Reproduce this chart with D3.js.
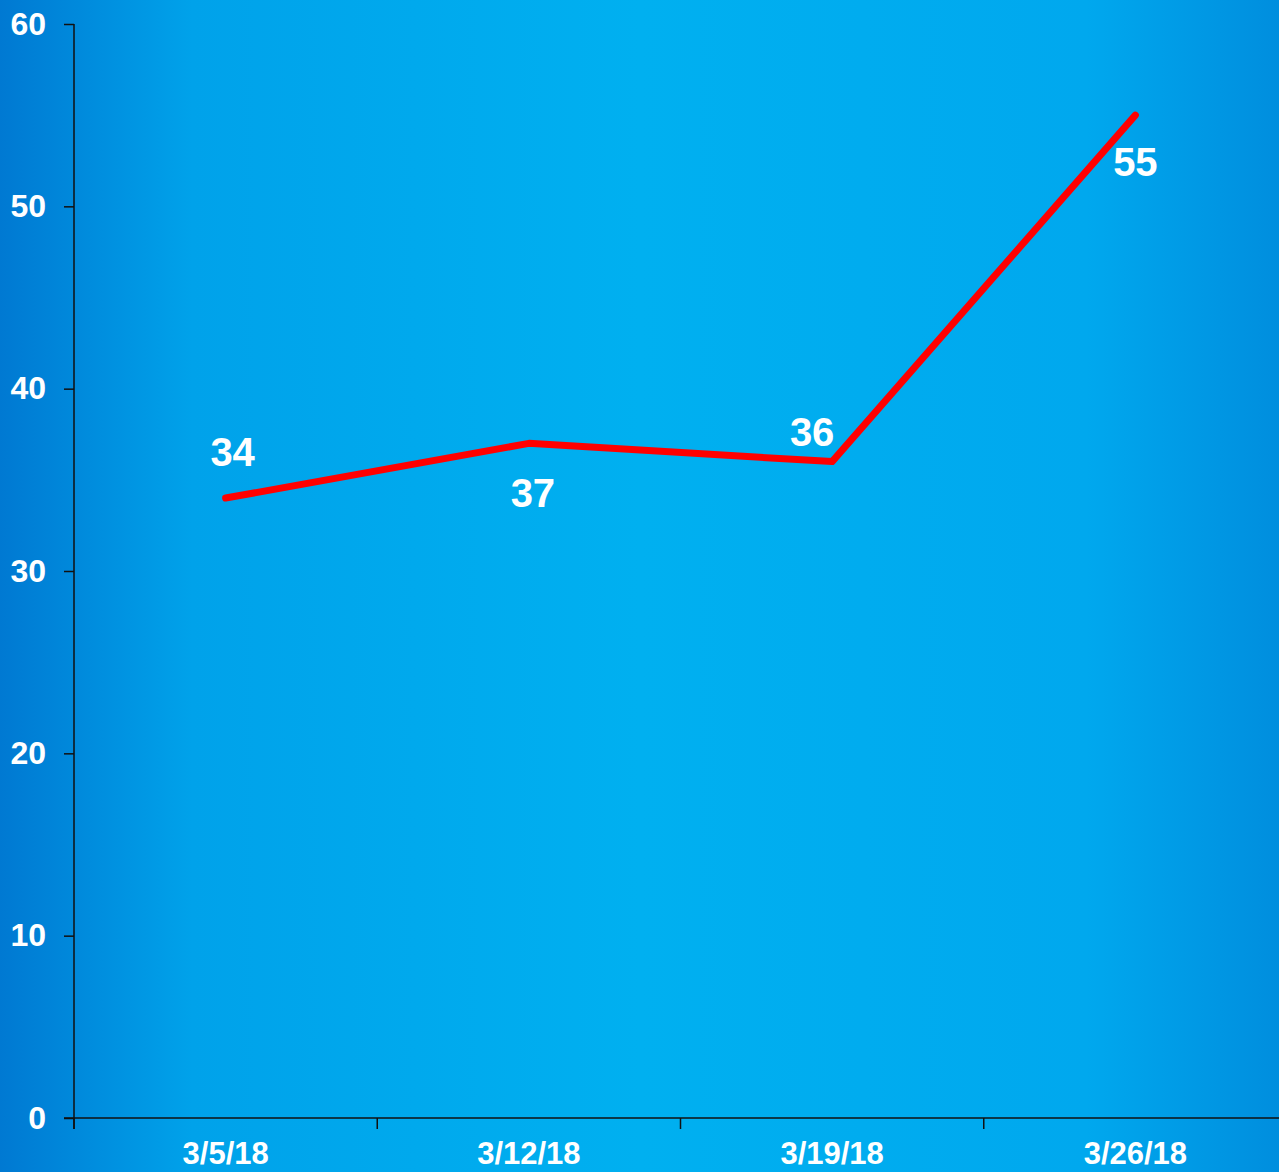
<!DOCTYPE html>
<html>
<head>
<meta charset="utf-8">
<script src="https://cdn.jsdelivr.net/npm/d3@7"></script>
<style>
  html, body { margin: 0; padding: 0; overflow: hidden; }
  svg { display: block; font-family: "Liberation Sans", Arial, sans-serif; }
</style>
</head>
<body>
<div id="chart"></div>
<script>
const width = 1279;
const height = 1172;

const dates = ["3/5/18", "3/12/18", "3/19/18", "3/26/18"];
const values = [34, 37, 36, 55];
const yTicks = [0, 10, 20, 30, 40, 50, 60];
// data label offsets from the point (px)
const labelDx = [7, 4, -20, 0];
const labelDy = [-32, 64, -16, 61];

const margin = { left: 74, right: -8, top: 24, bottom: 54 };

const svg = d3.select("#chart")
    .append("svg")
        .attr("width", width)
        .attr("height", height);

const defs = svg.append("defs");
const grad = defs.append("linearGradient")
    .attr("id", "bg")
    .attr("x1", "0%").attr("x2", "100%")
    .attr("y1", "0%").attr("y2", "0%");
grad.append("stop").attr("offset", "0%").attr("stop-color", "#0079d2");
grad.append("stop").attr("offset", "15%").attr("stop-color", "#00a2ea");
grad.append("stop").attr("offset", "50%").attr("stop-color", "#00b0f0");
grad.append("stop").attr("offset", "85%").attr("stop-color", "#00a8ee");
grad.append("stop").attr("offset", "100%").attr("stop-color", "#008ede");

svg.append("rect")
    .attr("width", width)
    .attr("height", height)
    .attr("fill", "url(#bg)");

const x = d3.scaleBand()
    .domain(dates)
    .range([margin.left, width - margin.right]);

const y = d3.scaleLinear()
    .domain([0, 60])
    .range([height - margin.bottom, margin.top]);

// y axis
const yAxis = svg.append("g")
    .attr("transform", `translate(${margin.left},0)`)
    .call(d3.axisLeft(y).tickValues(yTicks).tickSize(10).tickSizeOuter(0).tickPadding(18));
yAxis.select(".domain").attr("stroke", "#111").attr("stroke-width", 1.5)
    .attr("d", `M0,${y(60)}V${y(0) + 11}`);
yAxis.selectAll(".tick line").attr("stroke", "#111").attr("stroke-width", 1.5);
yAxis.selectAll(".tick text")
    .attr("fill", "#fff")
    .attr("font-size", 32)
    .attr("font-weight", "bold")
    .attr("font-family", "Liberation Sans, Arial, sans-serif");

// x axis
const xAxis = svg.append("g")
    .attr("transform", `translate(0,${y(0)})`)
    .call(d3.axisBottom(x).tickSize(0).tickPadding(24));
xAxis.select(".domain").attr("stroke", "#111").attr("stroke-width", 1.5)
    .attr("d", `M${margin.left - 10},0H${width}`);
xAxis.selectAll(".tick text")
    .attr("fill", "#fff")
    .attr("font-size", 31)
    .attr("font-weight", "bold")
    .attr("font-family", "Liberation Sans, Arial, sans-serif");

// category separators
svg.append("g")
    .selectAll("line")
    .data(dates)
    .enter()
    .append("line")
        .attr("x1", d => x(d))
        .attr("x2", d => x(d))
        .attr("y1", y(0))
        .attr("y2", y(0) + 11)
        .attr("stroke", "#111")
        .attr("stroke-width", 1.5);

const cx = d => x(d) + x.bandwidth() / 2;

const line = d3.line()
    .x((d, i) => cx(dates[i]))
    .y(d => y(d));

svg.append("path")
    .datum(values)
    .attr("fill", "none")
    .attr("stroke", "#ff0000")
    .attr("stroke-width", 7)
    .attr("stroke-linecap", "round")
    .attr("stroke-linejoin", "round")
    .attr("d", line);

svg.append("g")
    .selectAll("text")
    .data(values)
    .enter()
    .append("text")
        .attr("x", (d, i) => cx(dates[i]) + labelDx[i])
        .attr("y", (d, i) => y(d) + labelDy[i])
        .attr("text-anchor", "middle")
        .attr("fill", "#fff")
        .attr("font-size", 40)
        .attr("font-weight", "bold")
        .text(d => d);
</script>
</body>
</html>
